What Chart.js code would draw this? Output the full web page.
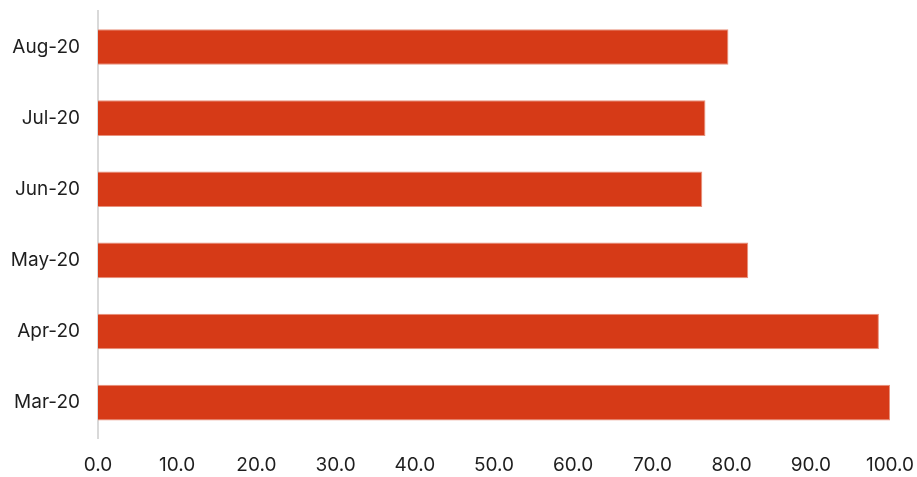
<!DOCTYPE html>
<html>
<head>
<meta charset="utf-8">
<script src="https://cdn.jsdelivr.net/npm/chart.js@4/dist/chart.umd.min.js"></script>
<style>
  html, body { margin: 0; padding: 0; background: #fff; overflow: hidden; }
  canvas { display: block; }
</style>
</head>
<body>
<canvas id="barChart" width="917" height="477"></canvas>
<script>
var meses = ['Mar-20', 'Apr-20', 'May-20', 'Jun-20', 'Jul-20', 'Aug-20'];
var valores = [100.0, 98.6, 82.1, 76.3, 76.7, 79.6];
var xMin = 0;
var xMax = 100;
var xPaso = 10;

var ctx = document.getElementById('barChart').getContext('2d');
var barChart = new Chart(ctx, {
    type: 'bar',
    data: {
        labels: meses,
        datasets: [{
            data: valores,
            backgroundColor: '#d63a17',
            borderColor: '#e8917c',
            borderWidth: { top: 1, bottom: 1, right: 1, left: 0 },
            borderSkipped: 'left',
            categoryPercentage: 1,
            barPercentage: 0.5
        }]
    },
    options: {
        indexAxis: 'y',
        responsive: false,
        maintainAspectRatio: false,
        animation: false,
        devicePixelRatio: 1,
        layout: { padding: { top: 10, right: 27, bottom: 0, left: 0 } },
        plugins: {
            legend: { display: false },
            tooltip: { enabled: false }
        },
        scales: {
            x: {
                min: xMin,
                max: xMax,
                // tick marks hidden, only used as spacing
                grid: { display: false, drawTicks: true, tickLength: 16, tickColor: 'rgba(0,0,0,0)' },
                border: { display: false },
                ticks: {
                    stepSize: xPaso,
                    padding: 0,
                    color: '#1e1e1e',
                    font: { family: 'Inter', size: 19 },
                    callback: function (v) { return Number(v).toFixed(1); }
                }
            },
            y: {
                reverse: true,
                grid: { display: false, drawTicks: true, tickLength: 18, tickColor: 'rgba(0,0,0,0)' },
                border: { display: true, color: '#d9d9d9', width: 2 },
                ticks: {
                    padding: 0,
                    color: '#1e1e1e',
                    font: { family: 'Inter', size: 19 }
                },
                afterFit: function (scale) { scale.width = 98; }
            }
        }
    }
});
</script>
</body>
</html>
